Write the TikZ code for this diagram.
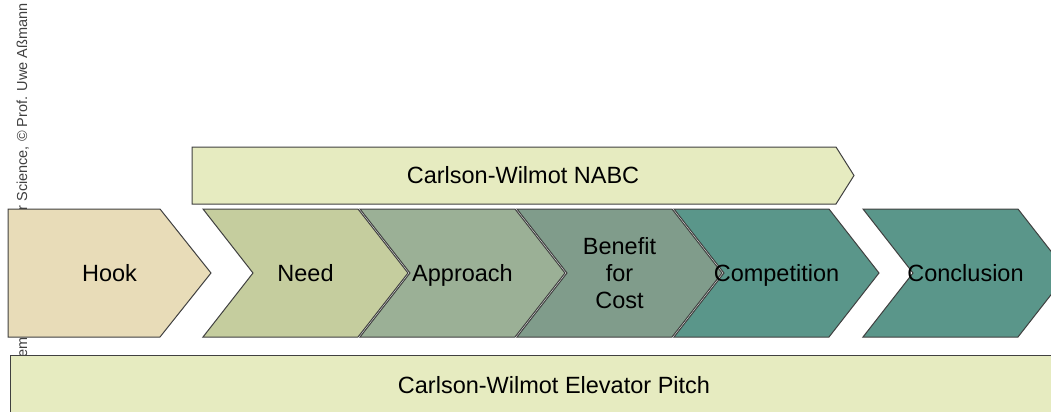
\documentclass[tikz,border=0pt]{standalone}
\usepackage{fontspec}
\setmainfont{Liberation Sans}
\definecolor{hookcol}{HTML}{E8DCB8}
\definecolor{needcol}{HTML}{C5CD9E}
\definecolor{appcol}{HTML}{9BB096}
\definecolor{bencol}{HTML}{809C8B}
\definecolor{compcol}{HTML}{5A968A}
\definecolor{barcol}{HTML}{E6EBC0}
\definecolor{edgecol}{HTML}{404040}
\begin{document}
\begin{tikzpicture}[x=0.5pt, y=-0.5pt, line join=miter,
	chev/.style={draw=edgecol, line width=0.5pt},
	lbl/.style={inner sep=0pt, align=center, font=\fontsize{11.75}{13.5}\selectfont},
	lblone/.style={lbl, text height=8.4pt, text depth=0pt}]
	\def\yt{209} \def\h{64} \def\w{155} \def\d{50} % chevron sizes
	\clip (0,0) rectangle (1051,412);
	% footer text, partly hidden by the shapes
	\node[inner sep=0pt, rotate=90, anchor=base east, text=black!75, font=\fontsize{7.25}{8}\selectfont] (credit) at (27,3) {Academic Skills in Computer Science, \textcopyright{} Prof. Uwe Aßmann};
	% bars
	\draw[chev, fill=barcol] (192,147) -- (836,147) -- (854,175.5) -- (836,204) -- (192,204) -- cycle;
	\node[lblone] (nabc) at (523,175.5) {Carlson-Wilmot NABC};
	\draw[chev, fill=barcol] (10,355) rectangle (1100,420);
	\node[lblone] (pitch) at (554,385) {Carlson-Wilmot Elevator Pitch};
	% chevrons
	\draw[chev, fill=hookcol] (8,\yt) -- (160,\yt) -- ++(51,\h) -- ++(-51,\h) -- (8,\yt+2*\h) -- cycle;
	\node[lblone] (hook) at (109.5,\yt+\h) {Hook};
	\foreach \xs/\col/\txt/\nm/\sty in {203/needcol/Need/need/lblone, 360/appcol/Approach/appr/lblone,
		517/bencol/{Benefit\\for\\Cost}/ben/lbl, 674/compcol/Competition/comp/lblone, 863/compcol/Conclusion/concl/lblone}{
		\draw[chev, fill=\col] (\xs,\yt) -- ++(\w,0) -- ++(\d,\h) -- ++(-\d,\h) -- ++(-\w,0) -- ++(\d,-\h) -- cycle;
		\node[\sty] (\nm) at (\xs+\d/2+\w/2,\yt+\h) {\txt};
	}
\end{tikzpicture}
\end{document}
